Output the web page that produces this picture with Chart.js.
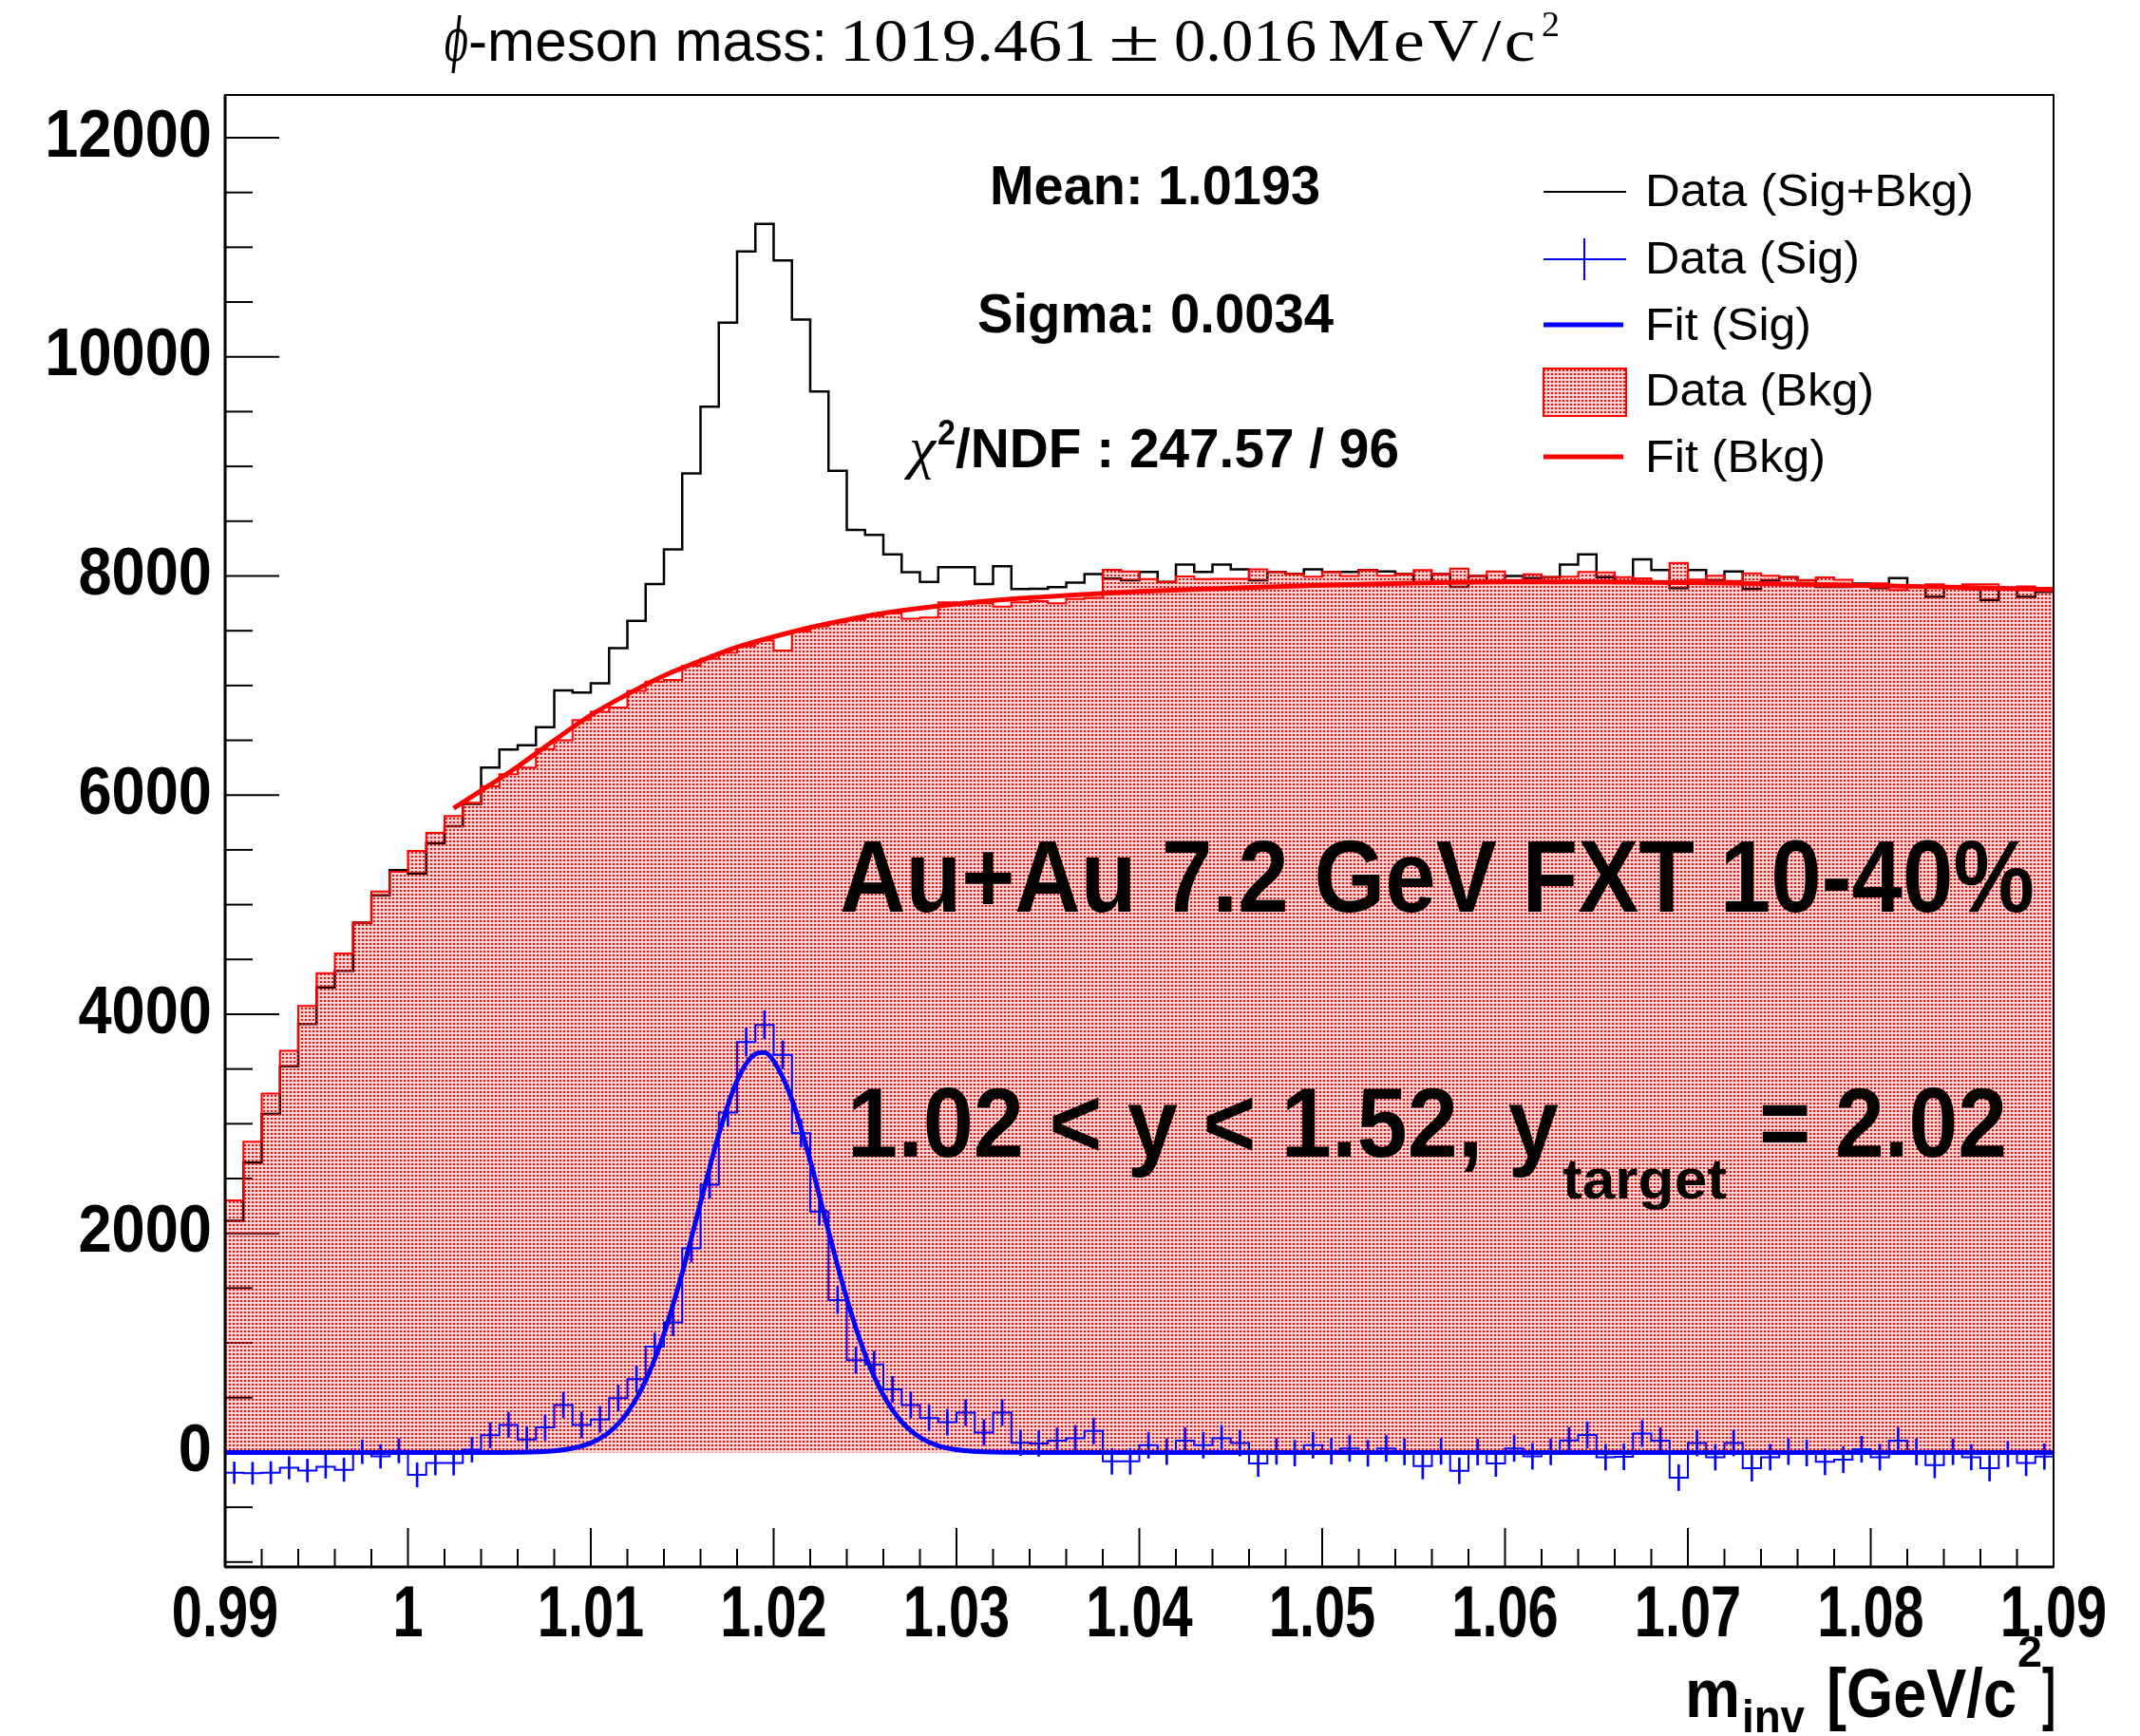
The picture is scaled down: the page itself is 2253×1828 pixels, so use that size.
<!DOCTYPE html>
<html>
<head>
<meta charset="utf-8">
<title>phi-meson invariant mass</title>
<script src="https://cdn.jsdelivr.net/npm/chart.js@4.4.1/dist/chart.umd.min.js"></script>
<style>
html,body{margin:0;padding:0;background:#ffffff;overflow:hidden;}
#box{position:relative;width:2253px;height:1828px;}
canvas{display:block;}
</style>
</head>
<body>
<div id="box"><canvas id="chart" width="2253" height="1828"></canvas></div>
<script>
// ---------------- data ----------------
const xRange = [0.99, 1.09];
const binWidth = 0.001;

// Data (Sig+Bkg): 100 bins, 0.99 .. 1.09
const totalCounts = [
  2115, 2645, 3090, 3525, 3910, 4245, 4397, 4837, 5085, 5315,
  5285, 5560, 5715, 5920, 6250, 6416, 6454, 6620, 6955, 6936,
  7021, 7341, 7591, 7927, 8243, 8936, 9545, 10312, 10963, 11214,
  10879, 10339, 9684, 8959, 8420, 8374, 8196, 8034, 7946, 8081,
  8081, 7927, 8089, 7880, 7882, 7897, 7940, 8017, 7975, 7960,
  8037, 7946, 8103, 8037, 8103, 8060, 7960, 8037, 8020, 8060,
  8037, 8037, 8054, 8040, 8017, 7930, 8017, 7900, 8000, 7940,
  8000, 7980, 7990, 8103, 8197, 7990, 7950, 8151, 8054, 7890,
  8054, 7960, 8040, 7880, 7960, 7990, 7960, 7900, 7900, 7930,
  7890, 7980, 7900, 7810, 7900, 7880, 7780, 7880, 7810, 7855
];
// Data (Bkg)
const bkgCounts = [
  2300, 2835, 3275, 3665, 4075, 4375, 4555, 4837, 5120, 5300,
  5490, 5655, 5810, 5930, 6080, 6190, 6250, 6420, 6500, 6685,
  6760, 6800, 6950, 7035, 7050, 7180, 7245, 7300, 7360, 7410,
  7320, 7495, 7540, 7575, 7600, 7635, 7660, 7610, 7620, 7760,
  7745, 7750, 7720, 7760, 7770, 7750, 7790, 7800, 8056, 8041,
  7971, 7946, 7996, 7971, 7973, 7974, 8061, 8037, 8020, 7994,
  8037, 8000, 8054, 8003, 8017, 8054, 8017, 8067, 8000, 8041,
  7963, 8015, 7990, 7993, 8037, 8033, 7990, 7978, 7947, 8120,
  7968, 8003, 7954, 8024, 8003, 7990, 7960, 7986, 7966, 7901,
  7933, 7873, 7900, 7925, 7900, 7923, 7924, 7894, 7905, 7892
];
// Data (Sig)
const sigCounts = [
  -185, -190, -185, -140, -165, -130, -158, 6, -35, 15,
  -205, -95, -95, 25, 157, 251, 119, 229, 433, 251,
  301, 496, 669, 967, 1187, 1862, 2443, 3102, 3746, 3903,
  3630, 2914, 2198, 1391, 842, 804, 575, 433, 314, 276,
  364, 182, 364, 88, 82, 107, 130, 196, -81, -81,
  66, 8, 107, 66, 130, 86, -101, 10, -6, 66,
  12, 37, -8, 37, 5, -124, 10, -167, 4, -101,
  37, -35, 6, 110, 160, -43, -40, 173, 107, -230,
  86, -43, 86, -144, -43, 8, -5, -86, -66, 29,
  -43, 107, 4, -115, 6, -43, -144, -14, -95, -37
];
const sigErrors = [
  98, 100, 101, 102, 104, 105, 106, 108, 108, 110,
  110, 111, 112, 113, 114, 115, 115, 116, 117, 118,
  118, 119, 120, 121, 122, 124, 125, 127, 128, 129,
  128, 127, 125, 123, 121, 120, 119, 119, 118, 118,
  118, 118, 118, 117, 117, 117, 117, 118, 118, 118,
  118, 118, 118, 118, 118, 118, 118, 118, 118, 118,
  118, 118, 118, 118, 118, 118, 118, 118, 118, 118,
  118, 118, 118, 118, 119, 118, 118, 119, 118, 118,
  118, 118, 118, 118, 118, 118, 118, 118, 118, 118,
  118, 118, 118, 117, 117, 117, 117, 117, 117, 117
];
// Fit (Bkg) curve, sampled
const bkgFitX = [1.0025, 1.004, 1.006, 1.008, 1.010, 1.012, 1.014, 1.016, 1.018, 1.020, 1.022, 1.024, 1.026, 1.028, 1.030, 1.033, 1.036, 1.040, 1.045, 1.050, 1.055, 1.060, 1.065, 1.070, 1.075, 1.080, 1.085, 1.090];
const bkgFitY = [5880, 6040, 6260, 6500, 6730, 6920, 7090, 7225, 7350, 7445, 7530, 7600, 7660, 7705, 7745, 7790, 7822, 7858, 7890, 7915, 7935, 7945, 7945, 7940, 7928, 7912, 7895, 7875];
// Fit (Sig) curve, sampled
const sigFitX = [0.990, 1.000, 1.004, 1.006, 1.008, 1.009, 1.010, 1.011, 1.012, 1.013, 1.014, 1.015, 1.016, 1.017, 1.018, 1.019, 1.0195, 1.020, 1.021, 1.022, 1.023, 1.024, 1.025, 1.026, 1.027, 1.028, 1.029, 1.030, 1.032, 1.035, 1.040, 1.090];
const sigFitY = [0, 0, 0, 2, 15, 38, 87, 185, 364, 656, 1083, 1640, 2279, 2904, 3393, 3636, 3650, 3573, 3221, 2663, 2019, 1405, 896, 524, 281, 138, 62, 26, 3, 0, 0, 0];

const yRange = [-1045, 12390];
const yTickStep = 500, yLabelEvery = 2000;
const xTickStep = 0.002, xLabelEvery = 0.01;
const legendLabels = ['Data (Sig+Bkg)', 'Data (Sig)', 'Fit (Sig)', 'Data (Bkg)', 'Fit (Bkg)'];

// ---------------- helpers ----------------
const nBins = totalCounts.length;
const edges = [];
for (let i = 0; i <= nBins; i++) edges.push(+(xRange[0] + i * binWidth).toFixed(4));
const centers = edges.slice(0, nBins).map(e => +(e + binWidth / 2).toFixed(5));
function stepData(vals) {
  const d = vals.map((v, i) => ({x: edges[i], y: v}));
  d.push({x: edges[vals.length], y: vals[vals.length - 1]});
  return d;
}
const yTicks = [];
for (let v = Math.ceil(yRange[0] / yTickStep) * yTickStep; v <= yRange[1]; v += yTickStep) yTicks.push(v);
const xTicks = [];
for (let i = 0; i <= Math.round((xRange[1] - xRange[0]) / xTickStep); i++) xTicks.push(+(xRange[0] + i * xTickStep).toFixed(4));

function isXMajor(v) { return Math.abs(v / xLabelEvery - Math.round(v / xLabelEvery)) < 1e-6; }

const SANS = '"Liberation Sans", Arial, Helvetica, sans-serif';
const SERIF = '"Liberation Serif", "DejaVu Serif", "Times New Roman", serif';

function makePattern() {
  const c = document.createElement('canvas');
  c.width = 4; c.height = 4;
  const g = c.getContext('2d');
  g.fillStyle = 'rgba(255,0,0,0.18)';
  g.fillRect(0, 0, 4, 4);
  g.fillStyle = 'rgba(255,0,0,0.95)';
  g.fillRect(1, 1, 2, 2);
  return g.createPattern(c, 'repeat');
}
const bkgPattern = makePattern();

function drawFit(ctx, text, font, x, baseline, width, color, spacing) {
  ctx.save();
  ctx.font = font;
  if (spacing && 'letterSpacing' in ctx) ctx.letterSpacing = spacing + 'px';
  ctx.fillStyle = color || '#000';
  ctx.textAlign = 'left';
  ctx.textBaseline = 'alphabetic';
  const m = ctx.measureText(text).width;
  ctx.translate(x, baseline);
  ctx.scale(width / m, 1);
  ctx.fillText(text, 0, 0);
  ctx.restore();
}
function line(ctx, x1, y1, x2, y2) { ctx.beginPath(); ctx.moveTo(x1, y1); ctx.lineTo(x2, y2); ctx.stroke(); }

// condensed tick labels (the reference uses a tall, narrow Helvetica)
function condenseLabels(scale, sx) {
  if (!scale || scale.__condensed) return;
  scale.__condensed = true;
  const orig = scale.drawLabels;
  scale.drawLabels = function (area) {
    const c = this.ctx;
    const rot = CanvasRenderingContext2D.prototype.rotate;
    c.rotate = function (a) { rot.call(this, a); this.scale(sx, 1); };
    try { orig.call(this, area); } finally { delete c.rotate; }
  };
}

// ---------------- ROOT-like decorations ----------------
const rootStyle = {
  id: 'rootStyle',
  beforeDraw(chart) {
    condenseLabels(chart.scales.x, 0.76);
    condenseLabels(chart.scales.y, 0.89);
  },
  beforeDatasetsDraw(chart) {
    const ctx = chart.ctx, ca = chart.chartArea, ys = chart.scales.y, xs = chart.scales.x;
    ctx.save();
    ctx.strokeStyle = '#000';
    ctx.lineWidth = 2;
    ys.ticks.forEach(t => {
      const p = ys.getPixelForValue(t.value);
      const L = (t.value % yLabelEvery === 0) ? 57 : 29;
      line(ctx, ca.left, p, ca.left + L, p);
    });
    xs.ticks.forEach(t => {
      const p = xs.getPixelForValue(t.value);
      const L = isXMajor(t.value) ? 41 : 19;
      line(ctx, p, ca.bottom, p, ca.bottom - L);
    });
    ctx.restore();
  },
  afterDatasetsDraw(chart) {
    const ctx = chart.ctx, ca = chart.chartArea;
    ctx.save();
    ctx.strokeStyle = '#000';
    ctx.lineWidth = 2;
    ctx.strokeRect(ca.left, ca.top, ca.right - ca.left, ca.bottom - ca.top);
    ctx.lineWidth = 3;
    line(ctx, ca.left, ca.top, ca.left, ca.bottom);
    line(ctx, ca.left, ca.bottom, ca.right, ca.bottom);
    ctx.restore();
  },
  afterDraw(chart) {
    const ctx = chart.ctx;
    // ---- title ----
    drawFit(ctx, '\u03D5', 'italic 64px "DejaVu Serif", ' + SERIF, 468, 64, 25);
    drawFit(ctx, '-meson mass:', '62px ' + SANS, 493, 64, 378);
    drawFit(ctx, '1019.461', '64px ' + SERIF, 884, 64, 270);
    drawFit(ctx, '\u00B1', '64px ' + SERIF, 1167, 64, 54);
    drawFit(ctx, '0.016', '64px ' + SERIF, 1236, 64, 150);
    drawFit(ctx, 'MeV/c', '64px ' + SERIF, 1398, 64, 222, '#000', 3);
    drawFit(ctx, '2', '38px ' + SERIF, 1623, 38, 19);

    // ---- fit results ----
    drawFit(ctx, 'Mean: 1.0193', 'bold 58px ' + SANS, 1042, 215, 348);
    drawFit(ctx, 'Sigma: 0.0034', 'bold 58px ' + SANS, 1029, 350, 375);
    drawFit(ctx, '\u03C7', 'italic 62px ' + SERIF, 957, 492, 28);
    drawFit(ctx, '2', 'bold 36px ' + SANS, 987, 468, 19);
    drawFit(ctx, '/NDF : 247.57 / 96', 'bold 58px ' + SANS, 1006, 492, 467);

    // ---- collision system ----
    drawFit(ctx, 'Au+Au 7.2 GeV FXT 10-40%', 'bold 107px ' + SANS, 884, 960, 1258);
    drawFit(ctx, '1.02 < y < 1.52, y', 'bold 104px ' + SANS, 892, 1218, 749);
    drawFit(ctx, 'target', 'bold 60px ' + SANS, 1645, 1262, 173);
    drawFit(ctx, '= 2.02', 'bold 104px ' + SANS, 1852, 1218, 261);

    // ---- x axis title ----
    drawFit(ctx, 'm', 'bold 72px ' + SANS, 1774, 1808, 58);
    drawFit(ctx, 'inv', 'bold 48px ' + SANS, 1834, 1824, 66);
    drawFit(ctx, '[GeV/c', 'bold 72px ' + SANS, 1923, 1808, 200);
    drawFit(ctx, '2', 'bold 46px ' + SANS, 2124, 1755, 26);
    drawFit(ctx, ']', 'bold 72px ' + SANS, 2150, 1808, 14);

    // ---- legend ----
    ctx.save();
    ctx.lineCap = 'butt';
    ctx.strokeStyle = '#000'; ctx.lineWidth = 2;
    line(ctx, 1625, 202, 1712, 202);
    ctx.strokeStyle = '#0000ff'; ctx.lineWidth = 2;
    line(ctx, 1625, 273, 1712, 273);
    line(ctx, 1668, 251, 1668, 295);
    ctx.lineWidth = 5;
    line(ctx, 1625, 342, 1709, 342);
    ctx.fillStyle = bkgPattern;
    ctx.fillRect(1625, 388, 87, 50);
    ctx.strokeStyle = '#ff0000'; ctx.lineWidth = 2;
    ctx.strokeRect(1625, 388, 87, 50);
    ctx.lineWidth = 5;
    line(ctx, 1625, 481, 1709, 481);
    ctx.restore();
    const lx = 1732;
    drawFit(ctx, legendLabels[0], '49px ' + SANS, lx, 217, 346);
    drawFit(ctx, legendLabels[1], '49px ' + SANS, lx, 288, 226);
    drawFit(ctx, legendLabels[2], '49px ' + SANS, lx, 358, 175);
    drawFit(ctx, legendLabels[3], '49px ' + SANS, lx, 427, 241);
    drawFit(ctx, legendLabels[4], '49px ' + SANS, lx, 497, 190);
  }
};

// ---------------- chart ----------------
const ctx = document.getElementById('chart').getContext('2d');
new Chart(ctx, {
  type: 'line',
  data: {
    datasets: [
      {
        label: legendLabels[0], data: stepData(totalCounts), stepped: 'before',
        borderColor: '#000000', borderWidth: 2.5, pointRadius: 0, fill: false, order: 10
      },
      {
        label: legendLabels[3], data: stepData(bkgCounts), stepped: 'before',
        borderColor: '#ff0000', borderWidth: 2, pointRadius: 0,
        fill: {target: 'origin', above: bkgPattern, below: bkgPattern}, backgroundColor: bkgPattern, order: 9
      },
      {
        label: legendLabels[4], data: bkgFitX.map((x, i) => ({x, y: bkgFitY[i]})),
        borderColor: '#ff0000', borderWidth: 5, pointRadius: 0, fill: false,
        cubicInterpolationMode: 'monotone', order: 8
      },
      {
        label: legendLabels[1], data: stepData(sigCounts), stepped: 'before',
        borderColor: '#0000ff', borderWidth: 2, pointRadius: 0, fill: false, order: 7
      },
      {
        type: 'bar', label: 'Data (Sig) errors',
        data: sigCounts.map((v, i) => ({x: centers[i], y: [v - sigErrors[i], v + sigErrors[i]]})),
        backgroundColor: '#0000ff', borderWidth: 0, barThickness: 2, grouped: false, order: 6
      },
      {
        label: legendLabels[2], data: sigFitX.map((x, i) => ({x, y: sigFitY[i]})),
        borderColor: '#0000ff', borderWidth: 5, pointRadius: 0, fill: false,
        cubicInterpolationMode: 'monotone', order: 5
      }
    ]
  },
  options: {
    responsive: false,
    animation: false,
    devicePixelRatio: 1,
    events: [],
    layout: {padding: {top: 100, right: 91, left: 0, bottom: 0}},
    plugins: {legend: {display: false}, tooltip: {enabled: false}, title: {display: false}},
    scales: {
      x: {
        type: 'linear', min: xRange[0], max: xRange[1], offset: false,
        grid: {display: false, drawTicks: false, tickLength: 0},
        border: {display: false},
        afterBuildTicks: s => { s.ticks = xTicks.map(v => ({value: v})); },
        afterFit: s => { s.height = 178; },
        ticks: {
          autoSkip: false, maxRotation: 0, minRotation: 0, padding: 6, color: '#000',
          font: {family: SANS, size: 76, weight: 'bold'},
          callback: v => isXMajor(v) ? String(parseFloat(Number(v).toFixed(2))) : ''
        }
      },
      y: {
        type: 'linear', min: yRange[0], max: yRange[1],
        grid: {display: false, drawTicks: false, tickLength: 0},
        border: {display: false},
        afterBuildTicks: s => { s.ticks = yTicks.map(v => ({value: v})); },
        afterFit: s => { s.width = 237; },
        ticks: {
          autoSkip: false, padding: 14, color: '#000',
          font: {family: SANS, size: 71, weight: 'bold'},
          callback: v => (v % yLabelEvery === 0) ? String(v) : ''
        }
      }
    }
  },
  plugins: [rootStyle]
});
</script>
</body>
</html>
